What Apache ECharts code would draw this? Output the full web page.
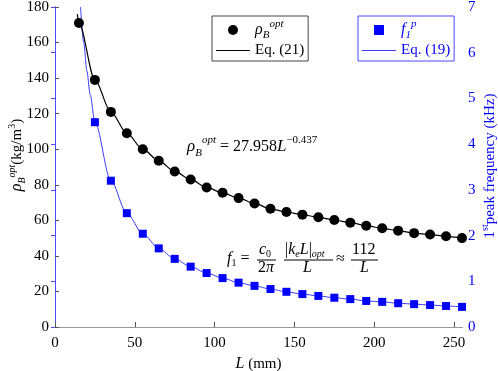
<!DOCTYPE html>
<html>
<head>
<meta charset="utf-8">
<script src="https://cdn.jsdelivr.net/npm/echarts@6/dist/echarts.min.js"></script>
<style>
  html, body { margin: 0; padding: 0; background: #fff; }
  #chart { width: 498px; height: 371px; }
</style>
</head>
<body>
<div id="chart"></div>
<script>
// measured points
const lengthRho = [15, 25, 35, 45, 55, 65, 75, 85, 95, 105, 115, 125, 135, 145, 155, 165, 175, 185, 195, 205, 215, 225, 235, 245, 255];
const rhoOpt = [171, 139, 121, 109, 100, 93.5, 87.5, 83, 78.5, 75.5, 72.5, 69.5, 66.5, 64.7, 63.2, 61.7, 60.2, 58.7, 57, 55.5, 54.2, 52.8, 52, 51, 50];

const lengthFreq = [25, 35, 45, 55, 65, 75, 85, 95, 105, 115, 125, 135, 145, 155, 165, 175, 185, 195, 205, 215, 225, 235, 245, 255];
const freqPeak = [4.48, 3.2, 2.49, 2.04, 1.72, 1.49, 1.32, 1.18, 1.07, 0.97, 0.9, 0.83, 0.77, 0.72, 0.68, 0.64, 0.61, 0.57, 0.55, 0.52, 0.5, 0.48, 0.46, 0.44];

// fitted curves
const eq21Length = [14].concat(lengthRho);
const eq21Rho = [176].concat(rhoOpt);
const eq19Length = [16, 18, 20, 22].concat(lengthFreq);
const eq19Freq = [7.0, 6.22, 5.6, 5.09].concat(freqPeak);

const xTicks = [0, 50, 100, 150, 200, 250];

const SERIF = "Liberation Serif";
const BLUE = "#0000ff";
const BLUE_AXIS = "#4a4aff";

const LINE_ICON = "path://M0,0L34,0L34,1L0,1Z";
const SQUARE_ICON = "path://M0,0L10,0L10,10L0,10Z";

const pair = (xs, ys) => xs.map((x, i) => [x, ys[i]]);

const richText = {
    n: { fontFamily: SERIF, fontSize: 15, lineHeight: 22 },
    it: { fontFamily: SERIF, fontSize: 16, fontStyle: "italic", lineHeight: 22 },
    sub: { fontFamily: SERIF, fontSize: 11, fontStyle: "italic", verticalAlign: "bottom", lineHeight: 11 },
    sup: { fontFamily: SERIF, fontSize: 11, fontStyle: "italic", verticalAlign: "top", lineHeight: 11 },
    supn: { fontFamily: SERIF, fontSize: 11, verticalAlign: "top", lineHeight: 11 }
};

// axis titles, a little smaller
const nameText = {
    n: { fontFamily: SERIF, fontSize: 15, lineHeight: 20 },
    it: { fontFamily: SERIF, fontSize: 16, fontStyle: "italic", lineHeight: 20 },
    sub: { fontFamily: SERIF, fontSize: 10, fontStyle: "italic", verticalAlign: "bottom", lineHeight: 10 },
    sup: { fontFamily: SERIF, fontSize: 10, fontStyle: "italic", verticalAlign: "top", lineHeight: 10 },
    supn: { fontFamily: SERIF, fontSize: 10, verticalAlign: "top", lineHeight: 10 }
};

const eqText1 = {
    n: { fontFamily: SERIF, fontSize: 16, lineHeight: 24 },
    it: { fontFamily: SERIF, fontSize: 17, fontStyle: "italic", lineHeight: 24 },
    sub: { fontFamily: SERIF, fontSize: 11, fontStyle: "italic", verticalAlign: "bottom", lineHeight: 11 },
    sup: { fontFamily: SERIF, fontSize: 11, fontStyle: "italic", verticalAlign: "top", lineHeight: 11 },
    supn: { fontFamily: SERIF, fontSize: 11, verticalAlign: "top", lineHeight: 11 }
};

// tighter rich styles for the stacked fractions
const fracText = {
    n: { fontFamily: SERIF, fontSize: 16, lineHeight: 18 },
    it: { fontFamily: SERIF, fontSize: 16, fontStyle: "italic", lineHeight: 18 },
    sub: { fontFamily: SERIF, fontSize: 10, fontStyle: "italic", verticalAlign: "bottom", lineHeight: 10 },
    subn: { fontFamily: SERIF, fontSize: 10, verticalAlign: "bottom", lineHeight: 10 }
};

const legendNames = {
    rhoB: "{it|ρ}{sub|B}{sup|opt}",
    eq21: "{n|Eq. (21)}",
    f1p: "{it|f}{sub|1}{sup|p}",
    eq19: "{n|Eq. (19)}"
};

const chart = echarts.init(document.getElementById("chart"));

const eqText = (x, y, text) => ({ type: "text", x: x, y: y, style: { text: text, rich: fracText, fill: "#000" } });
const bar = (x1, x2, y) => ({ type: "line", shape: { x1: x1, y1: y, x2: x2, y2: y }, style: { stroke: "#000", lineWidth: 1 } });

// rotated axis title, centred on (x, y), reading bottom to top
const sideTitle = (x, y, text, color) => ({
    type: "text", x: x, y: y, rotation: Math.PI / 2, z: 10,
    style: { text: text, rich: nameText, fill: color, align: "center", verticalAlign: "middle" }
});

const option = {
    animation: false,
    backgroundColor: "#fff",
    grid: { left: 55, right: 36, top: 7, bottom: 44, outerBoundsMode: "none" },
    legend: [
        {
            data: [
                { name: "rhoB", icon: "circle" },
                { name: "eq21", icon: LINE_ICON }
            ],
            orient: "vertical",
            left: 212, top: 16,
            padding: [3, 4, 3, 4],
            itemGap: 2,
            itemWidth: 34, itemHeight: 10,
            symbolKeepAspect: true,
            borderColor: "#444", borderWidth: 1,
            backgroundColor: "#fff",
            formatter: (name) => legendNames[name],
            textStyle: { color: "#000", rich: richText }
        },
        {
            data: [
                { name: "f1p", icon: SQUARE_ICON },
                { name: "eq19", icon: LINE_ICON }
            ],
            orient: "vertical",
            left: 358, top: 16,
            padding: [3, 4, 3, 4],
            itemGap: 2,
            itemWidth: 34, itemHeight: 10,
            symbolKeepAspect: true,
            borderColor: BLUE_AXIS, borderWidth: 1,
            backgroundColor: "#fff",
            formatter: (name) => legendNames[name],
            textStyle: { color: BLUE, rich: richText }
        }
    ],
    xAxis: [
        {
            type: "value", min: 0, max: 255,
            name: "{it|L}{n| (mm)}",
            nameLocation: "middle", nameGap: 22,
            nameTextStyle: { color: "#000", rich: richText },
            axisLine: { lineStyle: { color: "#555", width: 1 } },
            axisTick: { inside: true, length: 5, customValues: xTicks, lineStyle: { color: "#555" } },
            axisLabel: { customValues: xTicks, color: "#000", fontFamily: SERIF, fontSize: 15, margin: 9 },
            splitLine: { show: false }
        },
        {
            type: "value", min: 0, max: 255, position: "top",
            axisLine: { show: true, lineStyle: { color: "#999", width: 1 } },
            axisTick: { show: false },
            axisLabel: { show: false },
            splitLine: { show: false }
        }
    ],
    yAxis: [
        {
            type: "value", min: 0, max: 180, interval: 20,
            axisLine: { show: true, lineStyle: { color: "#555", width: 1 } },
            axisTick: { show: true, inside: true, length: 4, lineStyle: { color: "#555" } },
            axisLabel: { color: "#000", fontFamily: SERIF, fontSize: 15, margin: 6 },
            splitLine: { show: false }
        },
        {
            type: "value", min: 0, max: 7, interval: 1, position: "right",
            axisLine: { show: true, lineStyle: { color: BLUE_AXIS, width: 1 } },
            axisTick: { show: true, inside: true, length: 4, lineStyle: { color: BLUE_AXIS } },
            axisLabel: { color: BLUE, fontFamily: SERIF, fontSize: 15, margin: 6 },
            splitLine: { show: false }
        }
    ],
    series: [
        {
            name: "eq19", type: "line", yAxisIndex: 1,
            data: pair(eq19Length, eq19Freq),
            symbol: "none", smooth: 0.3, smoothMonotone: "x",
            lineStyle: { color: "#3c3cff", width: 1 },
            itemStyle: { color: "#3c3cff" },
            z: 2
        },
        {
            name: "eq21", type: "line",
            data: pair(eq21Length, eq21Rho),
            symbol: "none", smooth: 0.3, smoothMonotone: "x",
            lineStyle: { color: "#000", width: 1.2 },
            itemStyle: { color: "#000" },
            z: 2
        },
        {
            name: "rhoB", type: "scatter",
            data: pair(lengthRho, rhoOpt),
            symbol: "circle", symbolSize: 10,
            itemStyle: { color: "#000", opacity: 1 },
            z: 3
        },
        {
            name: "f1p", type: "scatter", yAxisIndex: 1,
            data: pair(lengthFreq, freqPeak),
            symbol: "rect", symbolSize: 8,
            itemStyle: { color: BLUE, opacity: 1 },
            z: 3
        }
    ],
    graphic: [
        sideTitle(17, 155, "{it|ρ}{sub|B}{sup|opt}{n|(kg/m}{supn|3}{n|)}", "#000"),
        sideTitle(490, 166, "{n|1}{supn|st}{n|peak frequency (kHz)}", BLUE),
        {
            type: "text", left: 187, top: 135, z: 10,
            style: {
                text: "{it|ρ}{sub|B}{sup|opt}{n| = 27.958}{it|L}{supn|−0.437}",
                rich: eqText1, fill: "#000"
            }
        },
        {
            type: "group", left: 227, top: 242, z: 10,
            children: [
                eqText(0, 8, "{it|f}{subn|1}{n| =}"),
                eqText(32, -1, "{it|c}{subn|0}"),
                bar(30, 49, 18),
                eqText(31, 17, "{n|2}{it|π}"),
                eqText(58, -1, "{n||}{it|k}{sub|e}{it|L}{n||}{sub|opt}"),
                bar(57, 106, 18),
                eqText(76, 17, "{it|L}"),
                eqText(109, 8, "{n|≈}"),
                eqText(125, -1, "{n|112}"),
                bar(124, 151, 18),
                eqText(133, 17, "{it|L}")
            ]
        }
    ]
};

chart.setOption(option);
</script>
</body>
</html>
